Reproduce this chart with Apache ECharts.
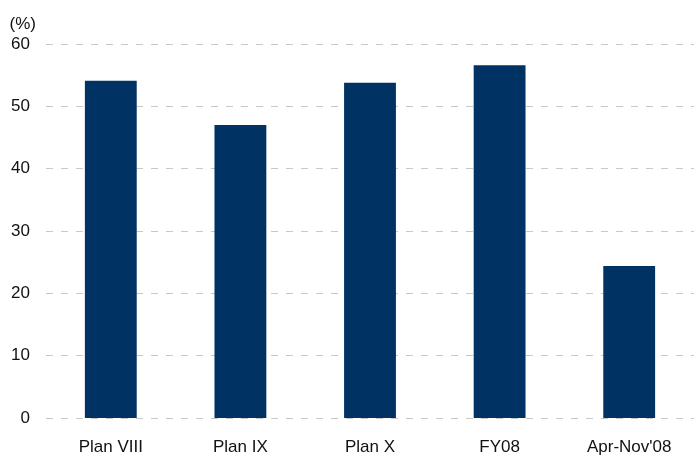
<!DOCTYPE html>
<html>
<head>
<meta charset="utf-8">
<script src="https://cdn.jsdelivr.net/npm/echarts@6/dist/echarts.min.js"></script>
<style>
html,body{margin:0;padding:0;background:#fff;}
#c{width:694px;height:457px;}
</style>
</head>
<body>
<div id="c"></div>
<script>
var categories = ["Plan VIII", "Plan IX", "Plan X", "FY08", "Apr-Nov'08"];
var values = [54.1, 47.0, 53.8, 56.6, 24.4];
var yTicks = {min: 0, max: 60, interval: 10};

var chart = echarts.init(document.getElementById('c'));
var font = "'Liberation Sans', Arial, sans-serif";
chart.setOption({
  animation: false,
  grid: {left: 46, right: 0, top: 44, bottom: 39, containLabel: false},
  xAxis: {
    type: 'category',
    data: categories,
    axisLine: {show: false},
    axisTick: {show: false},
    axisLabel: {color: '#111', fontSize: 17, fontFamily: font, margin: 21}
  },
  yAxis: {
    type: 'value',
    min: yTicks.min, max: yTicks.max, interval: yTicks.interval,
    name: '(%)',
    nameLocation: 'end',
    nameGap: 11,
    nameTextStyle: {color: '#111', fontSize: 17, fontFamily: font, align: 'right', padding: [0, 10, 0, 0]},
    axisLine: {show: false},
    axisTick: {show: false},
    axisLabel: {color: '#111', fontSize: 17, fontFamily: font, margin: 16},
    splitLine: {show: true, lineStyle: {color: '#c8c8c8', type: [7, 8], width: 1}}
  },
  series: [{
    type: 'bar',
    data: values,
    barWidth: '40%',
    itemStyle: {color: '#003263'}
  }]
});
</script>
</body>
</html>
